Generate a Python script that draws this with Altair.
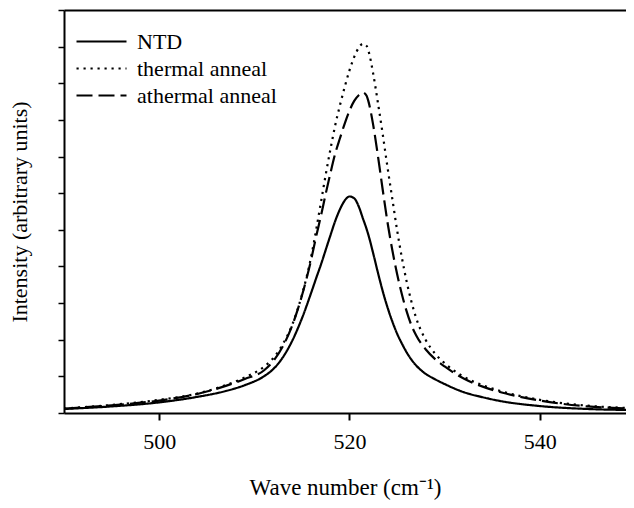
import altair as alt
import pandas as pd

FONT = "Liberation Serif"

wave = [490, 495, 500, 504, 507, 509, 511, 512, 513, 514, 515, 516, 516.5, 517,
        517.5, 518, 518.5, 519, 519.5, 520, 520.5, 521, 521.4, 521.8, 522, 522.5,
        523, 523.5, 524, 524.5, 525, 525.5, 526, 526.5, 527, 528, 529, 530, 532,
        534, 536, 540, 545, 550]

ntd = [0.11, 0.18, 0.29, 0.44, 0.60, 0.76, 1.00, 1.20, 1.52, 1.98, 2.58, 3.30, 3.68,
       4.05, 4.45, 4.85, 5.24, 5.56, 5.80, 5.91, 5.86, 5.62, 5.32, 5.02, 4.85, 4.35,
       3.82, 3.32, 2.88, 2.50, 2.17, 1.90, 1.66, 1.46, 1.30, 1.07, 0.92, 0.79, 0.57,
       0.43, 0.32, 0.19, 0.11, 0.08]

thermal = [0.12, 0.22, 0.36, 0.53, 0.76, 0.97, 1.26, 1.50, 1.88, 2.42, 3.22, 4.30,
           5.00, 5.75, 6.50, 7.20, 7.85, 8.40, 8.90, 9.35, 9.72, 9.98, 10.08, 10.02,
           9.88, 9.25, 8.45, 7.60, 6.70, 5.85, 5.00, 4.25, 3.60, 3.05, 2.60, 2.00,
           1.62, 1.36, 0.99, 0.76, 0.59, 0.36, 0.20, 0.13]

athermal = [0.12, 0.21, 0.34, 0.52, 0.74, 0.93, 1.16, 1.42, 1.82, 2.40, 3.20, 4.22,
            4.82, 5.38, 5.98, 6.55, 7.08, 7.50, 7.90, 8.25, 8.52, 8.68, 8.75, 8.66,
            8.50, 7.85, 7.00, 6.08, 5.20, 4.45, 3.80, 3.25, 2.78, 2.40, 2.12, 1.74,
            1.47, 1.27, 0.94, 0.72, 0.56, 0.34, 0.18, 0.12]

series_names = ["NTD", "thermal anneal", "athermal anneal"]
dash_styles = [[1, 0], [2.2, 4.8], [16, 6]]
x_ticks = [500, 520, 540]
y_ticks = list(range(0, 12))
x_domain = [490, 549.06]
y_domain = [0, 11]

rows = []
for name, vals in zip(series_names, [ntd, thermal, athermal]):
    for w, v in zip(wave, vals):
        rows.append({"wave": w, "intensity": v, "series": name})
df = pd.DataFrame(rows)

x_scale = alt.Scale(domain=x_domain, nice=False, zero=False)
y_scale = alt.Scale(domain=y_domain, nice=False, zero=True)

lines = alt.Chart(df).mark_line(
    color="black", strokeWidth=2.2, interpolate="monotone", clip=True
).encode(
    x=alt.X("wave:Q", scale=x_scale,
            axis=alt.Axis(values=x_ticks, title="Wave number (cm⁻¹)", grid=False,
                          tickSize=7, tickWidth=2, tickColor="black",
                          domainColor="black", domainWidth=2,
                          labelFont=FONT, labelFontSize=22, labelColor="black",
                          labelPadding=11,
                          titleFont=FONT, titleFontSize=23, titleFontWeight="normal",
                          titleColor="black", titlePadding=24)),
    y=alt.Y("intensity:Q", scale=y_scale,
            axis=alt.Axis(values=y_ticks, labels=False, title="Intensity (arbitrary units)",
                          grid=False, tickSize=6, tickWidth=1.5, tickColor="black",
                          domainColor="black", domainWidth=2,
                          titleFont=FONT, titleFontSize=22, titleFontWeight="normal",
                          titleColor="black", titlePadding=26)),
    strokeDash=alt.StrokeDash(
        "series:N",
        scale=alt.Scale(domain=series_names, range=dash_styles),
        legend=alt.Legend(title=None, orient="none", legendX=11, legendY=18,
                          symbolType="stroke", symbolSize=2500, symbolStrokeWidth=2.2,
                          symbolStrokeColor="black", clipHeight=27, rowPadding=0,
                          labelFont=FONT, labelFontSize=22, labelColor="black",
                          labelOffset=9, padding=0)),
)

top_frame = alt.Chart(df).mark_point(opacity=0).encode(
    x=alt.X("wave:Q", scale=x_scale,
            axis=alt.Axis(orient="top", labels=False, ticks=False, title=None,
                          grid=False, domainColor="black", domainWidth=2)),
    y=alt.Y("intensity:Q", scale=y_scale, axis=None),
)

chart = alt.layer(lines, top_frame).resolve_axis(
    x="independent", y="independent"
).properties(
    width=562, height=403,
    autosize=alt.AutoSizeParams(type="none"),
    padding={"left": 56, "top": 2, "right": 0, "bottom": 87}
).configure(font=FONT).configure_view(stroke=None)

chart.save("out.html", embed_options={"renderer": "svg", "actions": False})
